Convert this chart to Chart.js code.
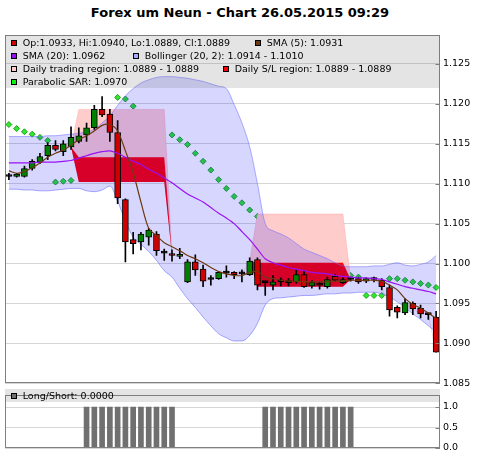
<!DOCTYPE html>
<html>
<head>
<meta charset="utf-8">
<script src="https://cdn.jsdelivr.net/npm/chart.js@4.4.1/dist/chart.umd.min.js"></script>
<style>
  html, body { margin: 0; padding: 0; background: #ffffff; }
  body { width: 480px; height: 457px; position: relative; overflow: hidden; font-family: "DejaVu Sans", sans-serif; }
  canvas { position: absolute; left: 0; }
  #main { top: 0; }
  #sub { top: 386px; }
  #title { position: absolute; left: 0; top: 4.6px; width: 480px; text-align: center; font: bold 13px "DejaVu Sans", sans-serif; line-height: normal; color: #000; }
  .legendBox { position: absolute; left: 5px; width: 435px; background: rgba(110, 110, 110, 0.19); }
  .item { position: absolute; height: 13px; line-height: 13px; font-size: 9.5px; color: #000; white-space: nowrap; }
  .sw { position: absolute; width: 4px; height: 4px; border: 1px solid #000; }
</style>
</head>
<body>
<div id="title">Forex um Neun - Chart 26.05.2015 09:29</div>
<canvas id="main" width="480" height="392"></canvas>
<canvas id="sub" width="480" height="71"></canvas>
<div class="legendBox" style="top:35px;height:53px;"></div>
<div class="legendBox" style="top:389px;height:13px;"></div>
<div id="legend"></div>
<script>
// ---- EUR/USD candles ----
const opens  = [1.1109,1.1109,1.1109,1.1119,1.1127,1.1135,1.1148,1.1140,1.1146,1.1153,1.1161,1.1170,1.1193,1.1187,1.1164,1.1080,1.1030,1.1027,1.1033,1.1037,1.1013,1.1012,1.1009,1.0977,1.1002,1.0993,1.0980,1.0981,1.0988,1.0989,1.0987,1.0986,1.1005,1.0976,1.0973,1.0977,1.0976,1.0977,1.0986,1.0972,1.0973,1.0971,1.0984,1.0976,1.0980,1.0981,1.0978,1.0980,1.0979,1.0970,1.0945,1.0938,1.0950,1.0944,1.0936,1.0933];
const highs  = [1.1113,1.1113,1.1122,1.1130,1.1138,1.1151,1.1154,1.1154,1.1171,1.1170,1.1176,1.1198,1.1209,1.1193,1.1179,1.1081,1.1039,1.1039,1.1044,1.1040,1.1018,1.1017,1.1019,1.1005,1.1011,1.0998,1.0985,1.0990,1.0997,1.0990,1.0992,1.1007,1.1007,1.0977,1.0985,1.0982,1.0981,1.0992,1.0991,1.0979,1.0977,1.0983,1.0986,1.0982,1.0983,1.0983,1.0982,1.0983,1.0981,1.0973,1.0947,1.0956,1.0952,1.0948,1.0938,1.0940];
const lows   = [1.1105,1.1108,1.1108,1.1117,1.1125,1.1130,1.1141,1.1135,1.1143,1.1151,1.1153,1.1168,1.1184,1.1153,1.1075,1.1002,1.1012,1.1017,1.1023,1.1010,1.1004,1.1003,1.1006,1.0976,1.0985,1.0971,1.0973,1.0980,1.0983,1.0981,1.0977,1.0985,1.0967,1.0960,1.0967,1.0972,1.0972,1.0975,1.0970,1.0969,1.0968,1.0969,1.0978,1.0975,1.0978,1.0975,1.0976,1.0977,1.0967,1.0934,1.0932,1.0936,1.0936,1.0932,1.0930,1.0889];
const closes = [1.1109,1.1112,1.1119,1.1128,1.1134,1.1148,1.1143,1.1150,1.1158,1.1160,1.1170,1.1193,1.1186,1.1164,1.1082,1.1027,1.1025,1.1037,1.1042,1.1016,1.1013,1.1010,1.1011,1.1002,1.0992,1.0978,1.0980,1.0989,1.0988,1.0986,1.0987,1.1003,1.0973,1.0976,1.0977,1.0977,1.0976,1.0986,1.0971,1.0976,1.0973,1.0980,1.0979,1.0980,1.0980,1.0977,1.0981,1.0980,1.0971,1.0942,1.0939,1.0951,1.0943,1.0937,1.0936,1.0889];

// ---- indicators ----
const sma5   = [1.1116,1.1113,1.1115,1.1120,1.1126,1.1133,1.1138,1.1142,1.1148,1.1155,1.1160,1.1166,1.1173,1.1174,1.1166,1.1141,1.1114,1.1077,1.1044,1.1035,1.1026,1.1021,1.1016,1.1010,1.1006,1.1001,1.0995,1.0990,1.0987,1.0985,1.0985,1.0989,1.0990,1.0983,1.0981,1.0979,1.0978,1.0978,1.0977,1.0977,1.0977,1.0977,1.0978,1.0978,1.0979,1.0979,1.0979,1.0979,1.0978,1.0973,1.0967,1.0956,1.0949,1.0944,1.0938,1.0931];
const sma20  = [1.1126,1.1126,1.1126,1.1126,1.1127,1.1127,1.1127,1.1128,1.1129,1.1132,1.1135,1.1138,1.1140,1.1141,1.1138,1.1133,1.1128,1.1124,1.1118,1.1113,1.1107,1.1101,1.1094,1.1087,1.1082,1.1077,1.1070,1.1063,1.1057,1.1050,1.1040,1.1030,1.1018,1.1006,1.1001,1.0998,1.0995,1.0993,1.0991,1.0989,1.0988,1.0987,1.0985,1.0984,1.0983,1.0982,1.0982,1.0981,1.0980,1.0977,1.0974,1.0971,1.0969,1.0967,1.0965,1.0962];
const bollUp = [1.1159,1.1159,1.1159,1.1159,1.1159,1.1160,1.1160,1.1161,1.1162,1.1163,1.1165,1.1168,1.1176,1.1185,1.1198,1.1210,1.1219,1.1226,1.1230,1.1233,1.1234,1.1234,1.1233,1.1232,1.1230,1.1228,1.1225,1.1222,1.1219,1.1199,1.1176,1.1146,1.1100,1.1050,1.1041,1.1037,1.1032,1.1025,1.1018,1.1014,1.1010,1.1006,1.1001,1.0997,1.0996,1.0996,1.0996,1.0997,1.0997,1.0999,1.1001,1.0998,1.0997,1.0999,1.1002,1.1010];
const bollLo = [1.1093,1.1093,1.1092,1.1092,1.1091,1.1091,1.1092,1.1093,1.1094,1.1094,1.1091,1.1090,1.1092,1.1097,1.1078,1.1053,1.1033,1.1024,1.1015,1.1004,1.0991,1.0983,1.0969,1.0956,1.0945,1.0933,1.0922,1.0912,1.0907,1.0903,1.0903,1.0910,1.0925,1.0948,1.0956,1.0957,1.0958,1.0959,1.0960,1.0960,1.0961,1.0962,1.0962,1.0963,1.0963,1.0964,1.0964,1.0964,1.0962,1.0958,1.0952,1.0945,1.0937,1.0930,1.0922,1.0914];
const sar    = [1.1174,1.1169,1.1165,1.1162,1.1158,1.1154,1.1102,1.1103,1.1104,null,null,null,null,null,1.1208,1.1206,1.1197,null,null,null,null,1.1161,1.1155,1.1149,1.1138,1.1128,1.1117,1.1105,1.1094,1.1084,1.1076,1.1067,1.1059,null,null,null,null,null,null,null,null,null,null,null,1.0985,1.0983,1.0960,1.0960,1.0960,1.0981,1.0981,1.0979,1.0977,1.0975,1.0973,1.0970];

// ---- daily regions (collapse onto the close outside the session) ----
const tradeHigh = [1.1109,1.1112,1.1119,1.1128,1.1134,1.1148,1.1143,1.1150,1.1146,1.1193,1.1193,1.1193,1.1193,1.1193,1.1193,1.1193,1.1193,1.1193,1.1193,1.1193,1.1193,1.1010,1.1011,1.1002,1.0992,1.0978,1.0980,1.0989,1.0988,1.0986,1.0987,1.1003,1.1062,1.1062,1.1062,1.1062,1.1062,1.1062,1.1062,1.1062,1.1062,1.1062,1.1062,1.1062,1.0980,1.0977,1.0981,1.0980,1.0971,1.0942,1.0939,1.0951,1.0943,1.0937,1.0936,1.0889];
const tradeLow  = [1.1109,1.1112,1.1119,1.1128,1.1134,1.1148,1.1143,1.1150,1.1146,1.1102,1.1102,1.1102,1.1102,1.1102,1.1102,1.1102,1.1102,1.1102,1.1102,1.1102,1.1102,1.1010,1.1011,1.1002,1.0992,1.0978,1.0980,1.0989,1.0988,1.0986,1.0987,1.1003,1.0971,1.0971,1.0971,1.0971,1.0971,1.0971,1.0971,1.0971,1.0971,1.0971,1.0971,1.0971,1.0980,1.0977,1.0981,1.0980,1.0971,1.0942,1.0939,1.0951,1.0943,1.0937,1.0936,1.0889];
const slHigh    = [1.1109,1.1112,1.1119,1.1128,1.1134,1.1148,1.1143,1.1150,1.1146,1.1133,1.1133,1.1133,1.1133,1.1133,1.1133,1.1133,1.1133,1.1133,1.1133,1.1133,1.1133,1.1010,1.1011,1.1002,1.0992,1.0978,1.0980,1.0989,1.0988,1.0986,1.0987,1.1003,1.1001,1.1001,1.1001,1.1001,1.1001,1.1001,1.1001,1.1001,1.1001,1.1001,1.1001,1.1001,1.0980,1.0977,1.0981,1.0980,1.0971,1.0942,1.0939,1.0951,1.0943,1.0937,1.0936,1.0889];
const slLow     = [1.1109,1.1112,1.1119,1.1128,1.1134,1.1148,1.1143,1.1150,1.1146,1.1102,1.1102,1.1102,1.1102,1.1102,1.1102,1.1102,1.1102,1.1102,1.1102,1.1102,1.1102,1.1010,1.1011,1.1002,1.0992,1.0978,1.0980,1.0989,1.0988,1.0986,1.0987,1.1003,1.0971,1.0971,1.0971,1.0971,1.0971,1.0971,1.0971,1.0971,1.0971,1.0971,1.0971,1.0971,1.0980,1.0977,1.0981,1.0980,1.0971,1.0942,1.0939,1.0951,1.0943,1.0937,1.0936,1.0889];

// ---- long/short signal ----
const longShort = [0,0,0,0,0,0,0,0,0,0,1,1,1,1,1,1,1,1,1,1,1,1,0,0,0,0,0,0,0,0,0,0,0,1,1,1,1,1,1,1,1,1,1,1,1,0,0,0,0,0,0,0,0,0,0,0];

// ---- axes ----
const priceTicks = { min: 1.085, max: 1.128614, step: 0.005 };
const signalTicks = { min: 0, max: 1.3, step: 0.5 };

const periods = closes.map((_, i) => String(i + 1));

const COL = {
  up: '#008000', down: '#d00000', doji: '#000000',
  sma5: '#6b3a10', sma20: '#9a10f5',
  bollLine: 'rgba(110,110,255,0.55)', bollFill: 'rgba(0,0,255,0.16)', bollKey: '#a8a8ff',
  trade: '#ffcccc', sl: '#ff0000',
  sarFill: '#2ee82e', sarEdge: '#118811', sarKey: '#11ee11',
  signal: '#707070', grid: '#d6d6d6', frame: '#808080'
};
const FONT = { family: 'DejaVu Sans', size: 9.5 };

// frame around the plot area plus short inner tick marks on the right axis
const framePlugin = {
  id: 'frame',
  afterDraw(chart) {
    const { ctx, chartArea: a, scales } = chart;
    const y = scales.y;
    ctx.save();
    ctx.strokeStyle = COL.frame;
    ctx.lineWidth = 1;
    const l = Math.round(a.left) + 0.5, t = Math.round(a.top) + 0.5;
    const r = Math.round(a.right) - 0.5, b = Math.round(a.bottom) - 0.5;
    ctx.strokeRect(l, t, r - l, b - t);
    ctx.beginPath();
    y.ticks.forEach(tk => {
      const py = Math.round(y.getPixelForValue(tk.value)) + 0.5;
      ctx.moveTo(r - 4, py);
      ctx.lineTo(r + 0.5, py);
    });
    ctx.stroke();
    ctx.restore();
  }
};

function yAxis(t, digits) {
  return {
    position: 'right',
    min: t.min, max: t.max,
    afterFit(s) { s.width = 40; },
    border: { display: false },
    grid: { color: COL.grid, drawTicks: false, lineWidth: 1 },
    ticks: {
      stepSize: t.step, includeBounds: false, padding: 3,
      color: '#000', font: FONT,
      callback: v => Number(v).toFixed(digits)
    }
  };
}

const bodyColors = closes.map((c, i) => c > opens[i] ? COL.up : (c < opens[i] ? COL.down : COL.doji));

const lineBase = { type: 'line', pointRadius: 0, pointHoverRadius: 0, borderWidth: 1 };

new Chart(document.getElementById('main'), {
  type: 'bar',
  data: {
    labels: periods,
    datasets: [
      { ...lineBase, label: 'Bollinger upper', data: bollUp, borderColor: COL.bollLine, backgroundColor: COL.bollFill, fill: '+1', cubicInterpolationMode: 'monotone', order: 4 },
      { ...lineBase, label: 'Bollinger lower', data: bollLo, borderColor: COL.bollLine, fill: false, cubicInterpolationMode: 'monotone', order: 5 },
      { ...lineBase, label: 'S/L high', data: slHigh, borderColor: 'transparent', backgroundColor: COL.sl, fill: '+1', tension: 0, order: 6 },
      { ...lineBase, label: 'S/L low', data: slLow, borderColor: 'transparent', fill: false, tension: 0, order: 7 },
      { ...lineBase, label: 'Trading high', data: tradeHigh, borderColor: 'rgba(255,150,150,0.35)', backgroundColor: COL.trade, fill: '+1', tension: 0, order: 8 },
      { ...lineBase, label: 'Trading low', data: tradeLow, borderColor: 'transparent', fill: false, tension: 0, order: 9 },
      { type: 'line', label: 'Parabolic SAR', data: sar, showLine: false, pointStyle: 'rectRot', pointRadius: 3, pointHoverRadius: 3,
        pointBackgroundColor: COL.sarFill, pointBorderColor: COL.sarEdge, pointBorderWidth: 0.8, order: 10 },
      { type: 'bar', label: 'Range', data: lows.map((l, i) => [l, highs[i]]), backgroundColor: '#000', barThickness: 1, grouped: false, order: 3 },
      { type: 'bar', label: 'Body', data: opens.map((o, i) => [o, closes[i]]), backgroundColor: bodyColors,
        borderColor: '#000', borderWidth: 1, borderSkipped: false, barThickness: 6, minBarLength: 2, grouped: false, order: 2 },
      { ...lineBase, label: 'SMA (20)', data: sma20, borderColor: COL.sma20, borderWidth: 1.2, tension: 0.3, order: 1 },
      { ...lineBase, label: 'SMA (5)', data: sma5, borderColor: COL.sma5, borderWidth: 1.2, tension: 0.3, order: 0 }
    ]
  },
  options: {
    responsive: false, animation: false, devicePixelRatio: 1,
    layout: { padding: { left: 5, right: 0, top: 35, bottom: 7 } },
    plugins: { legend: { display: false }, tooltip: { enabled: false }, title: { display: false } },
    scales: {
      x: { type: 'category', display: false, offset: true, grid: { display: false } },
      y: yAxis(priceTicks, 3)
    }
  },
  plugins: [framePlugin]
});

new Chart(document.getElementById('sub'), {
  type: 'bar',
  data: {
    labels: periods,
    datasets: [
      { label: 'Long/Short', data: longShort, backgroundColor: COL.signal, barThickness: 5 }
    ]
  },
  options: {
    responsive: false, animation: false, devicePixelRatio: 1,
    layout: { padding: { left: 5, right: 0, top: 3, bottom: 9 } },
    plugins: { legend: { display: false }, tooltip: { enabled: false } },
    scales: {
      x: { type: 'category', display: false, offset: true, grid: { display: false } },
      y: yAxis(signalTicks, 1)
    }
  },
  plugins: [framePlugin]
});

// ---- legend rows ----
const f4 = v => v.toFixed(4);
const n = closes.length - 1;
const legendItems = [
  { top: 36.3, x: 11,  color: COL.down,    text: `Op:${f4(opens[n])}, Hi:${f4(highs[n])}, Lo:${f4(lows[n])}, Cl:${f4(closes[n])}` },
  { top: 36.3, x: 255, color: COL.sma5,    text: `SMA (5): ${f4(sma5[n])}` },
  { top: 49.3, x: 11,  color: COL.sma20,   text: `SMA (20): ${f4(sma20[n])}` },
  { top: 49.3, x: 133, color: COL.bollKey, text: `Bollinger (20, 2): ${f4(bollLo[n])} - ${f4(bollUp[n])}` },
  { top: 62.3, x: 11,  color: COL.trade,   text: `Daily trading region: ${f4(tradeLow[n])} - ${f4(tradeHigh[n])}` },
  { top: 62.3, x: 223, color: COL.sl,      text: `Daily S/L region: ${f4(slLow[n])} - ${f4(slHigh[n])}` },
  { top: 75.3, x: 11,  color: COL.sarKey,  text: `Parabolic SAR: ${f4(sar[n])}` },
  { top: 389.3, x: 11, color: COL.signal,  text: `Long/Short: ${f4(longShort[n])}` }
];
const host = document.getElementById('legend');
legendItems.forEach(it => {
  const sw = document.createElement('div');
  sw.className = 'sw';
  sw.style.left = it.x + 'px';
  sw.style.top = (it.top + 3.2) + 'px';
  sw.style.background = it.color;
  host.appendChild(sw);
  const tx = document.createElement('div');
  tx.className = 'item';
  tx.style.left = (it.x + 11.7) + 'px';
  tx.style.top = it.top + 'px';
  tx.textContent = it.text;
  host.appendChild(tx);
});
</script>
</body>
</html>
